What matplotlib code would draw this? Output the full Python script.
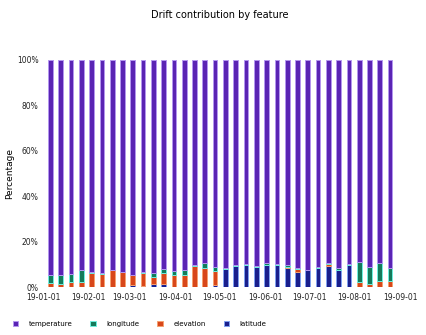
import matplotlib
matplotlib.use("Agg")
import matplotlib.pyplot as plt
import matplotlib.dates as mdates
from matplotlib.ticker import FuncFormatter
import pandas as pd

dates = pd.date_range("2019-01-06", periods=34, freq="7D")
latitude = [0, 0, 0, 0, 0, 0, 0, 0, 1, 0.5, 1.3, 1.3, 0, 0, 0, 0.3, 1,
            8.3, 9.4, 9.7, 9, 9.7, 10, 8.5, 6.8, 7.5, 8.7, 9.3, 7.8, 10, 0, 0, 0, 0]
elevation = [2, 1.3, 2.5, 2.5, 6.5, 6, 7.5, 6.8, 4.3, 6, 3.3, 5, 5.3, 5.6, 9.4, 8.4, 6.2,
             0, 0, 0, 0, 0, 0, 0.5, 1.2, 0, 0, 1.2, 0, 0, 2.5, 1.7, 2.8, 2.9]
longitude = [3.5, 4, 3.3, 5, 0.3, 0.3, 0.2, 0.2, 0.3, 0.3, 1.7, 1.9, 2, 1.9, 0.3, 2.2, 1.7,
             0.4, 0.3, 0.7, 0.5, 1, 0.4, 0.8, 0.4, 0.3, 0.3, 0.3, 0.9, 0.3, 8.7, 7.2, 8.1, 5.8]
temperature = [94.5, 94.7, 94.2, 92.5, 93.2, 93.7, 92.3, 93.0, 94.4, 93.2, 93.7, 91.8,
               92.7, 92.5, 90.3, 89.1, 91.1, 91.3, 90.3, 89.6, 90.5, 89.3, 89.6, 90.2,
               91.6, 92.2, 91.0, 89.2, 91.3, 89.7, 88.8, 91.1, 89.1, 91.3]

series = [
    ("latitude", latitude, "#1a1f8c", "#7fa0f0"),
    ("elevation", elevation, "#d8471a", "#f5a070"),
    ("longitude", longitude, "#157a5a", "#6ff0e0"),
    ("temperature", temperature, "#5a24b4", "#b497f0"),
]

fig = plt.figure(figsize=(4.27, 3.35), dpi=100)
ax = fig.add_axes([0.094, 0.142, 0.854, 0.679])

bottom = [0.0] * len(dates)
handles = {}
for name, vals, fc, ec in series:
    b = ax.bar(dates, vals, width=3.2, bottom=bottom, color=fc, edgecolor=ec,
               linewidth=0.7, label=name)
    handles[name] = b
    bottom = [x + y for x, y in zip(bottom, vals)]

ax.set_ylim(0, 100)
ax.set_xlim(pd.Timestamp("2018-12-30"), pd.Timestamp("2019-09-04"))
ax.xaxis.set_major_locator(mdates.MonthLocator())
ax.xaxis.set_major_formatter(mdates.DateFormatter("%y-%m-%d"))
ax.set_yticks([0, 20, 40, 60, 80, 100])
ax.yaxis.set_major_formatter(FuncFormatter(lambda v, p: f"{int(v)}%"))
ax.tick_params(axis="both", labelsize=5.5, length=0, colors="#222222")
ax.tick_params(axis="x", pad=4)
ax.tick_params(axis="y", pad=1)
for s in ax.spines.values():
    s.set_visible(False)
ax.set_ylabel("Percentage", fontsize=6.5, labelpad=2)
fig.suptitle("Drift contribution by feature", fontsize=7, y=0.97, x=0.515)

order = ["temperature", "longitude", "elevation", "latitude"]
fig.legend([handles[n] for n in order], order, loc="lower left",
           bbox_to_anchor=(0.015, 0.005), ncol=4, frameon=False, fontsize=5,
           handlelength=0.8, handleheight=0.8, columnspacing=2.6, handletextpad=1.5)

fig.savefig("out.png", dpi=100)
